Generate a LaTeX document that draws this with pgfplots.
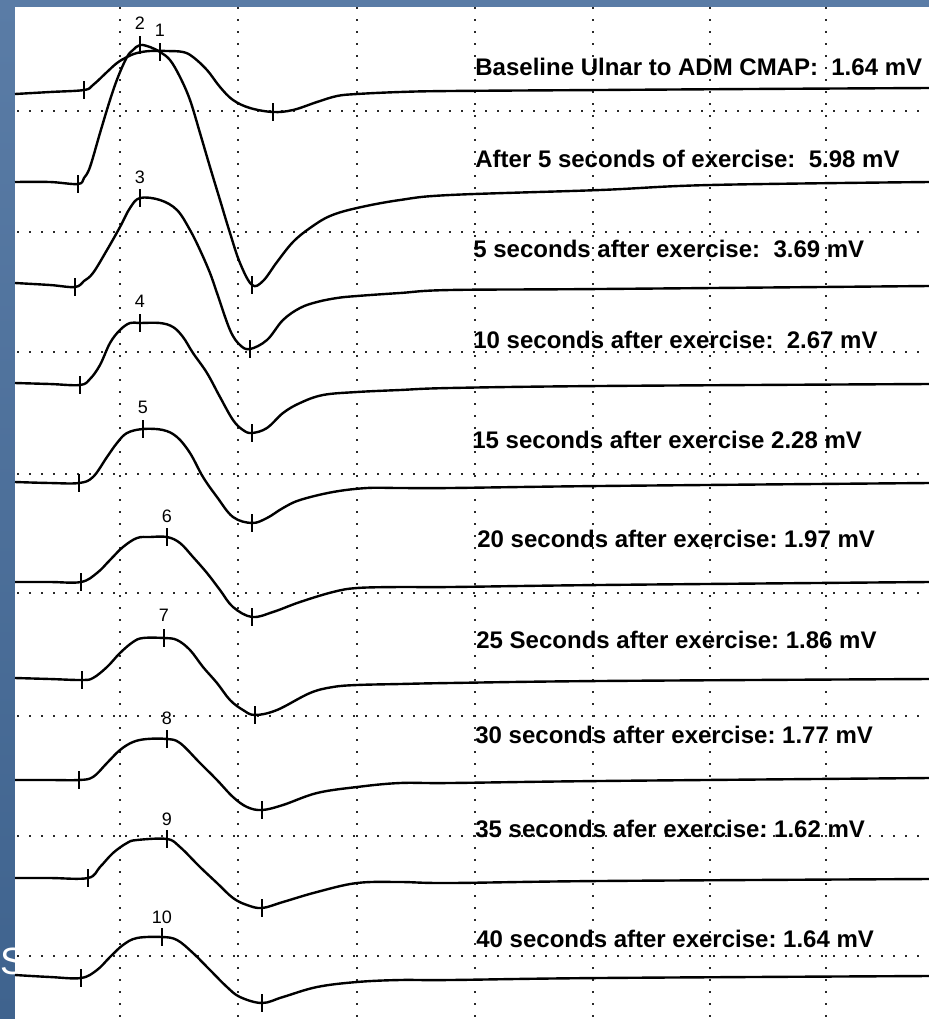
\documentclass[border=0pt]{standalone}
\usepackage{pgfplots}
\pgfplotsset{compat=1.18}
\usepackage{fontspec}
\setmainfont{Liberation Sans}
\definecolor{bgtop}{HTML}{5A7CA6}
\definecolor{bgbot}{HTML}{3F638E}
\definecolor{gridc}{HTML}{2A2A2A}
\begin{document}
\frenchspacing
\begin{tikzpicture}
% slide background and white sheet
\fill[top color=bgtop,bottom color=bgbot] (0,0) rectangle (464.5pt,509.5pt);
\node[anchor=base west,inner sep=0pt,text=white,font=\fontsize{19}{20}\selectfont] at (0pt,22pt) {S};
\fill[white] (7.5pt,0pt) rectangle (464.5pt,506pt);
\begin{axis}[at={(0,0)},anchor=south west,
  width=464.5pt,height=509.5pt,scale only axis,
  xmin=0,xmax=929,ymin=0,ymax=1019,y dir=reverse,
  hide axis,clip=false,
  grd/.style={gridc,line width=1.15pt,dash pattern=on 1.1pt off 4.9pt,forget plot},
  trc/.style={black,line width=1.2pt,smooth,tension=0.6,forget plot},
  tk/.style={black,only marks,mark=|,mark size=4.5pt,mark options={line width=0.9pt},forget plot}]
% dotted grid
\addplot[grd] coordinates {(120,7)(120,1019)};
\addplot[grd] coordinates {(238,7)(238,1019)};
\addplot[grd] coordinates {(357,7)(357,1019)};
\addplot[grd] coordinates {(475,7)(475,1019)};
\addplot[grd] coordinates {(593,7)(593,1019)};
\addplot[grd] coordinates {(710,7)(710,1019)};
\addplot[grd] coordinates {(826,7)(826,1019)};
\addplot[grd] coordinates {(17,111)(929,111)};
\addplot[grd] coordinates {(17,232)(929,232)};
\addplot[grd] coordinates {(17,352)(929,352)};
\addplot[grd] coordinates {(17,474)(929,474)};
\addplot[grd] coordinates {(17,593)(929,593)};
\addplot[grd] coordinates {(17,716)(929,716)};
\addplot[grd] coordinates {(17,836)(929,836)};
\addplot[grd] coordinates {(17,956)(929,956)};
% trace 1: baseline
\addplot[trc] coordinates {(15,94)(50,92)(84,90)(93,85)(107,72)(117,63)(127,57)(137,53)(150,51)(167,51)(183,52)(193,57)(207,70)(220,87)(233,100)(250,108)(273,112)(293,110)(317,102)(337,96)(357,94)(400,92)(450,91)(600,90)(750,89)(929,88)};
% trace 2: after 5 s of exercise
\addplot[trc] coordinates {(15,182)(50,182)(78,184)(84,178)(90,167)(100,133)(110,100)(118,77)(127,57)(133,50)(140,45)(150,47)(160,52)(170,60)(180,77)(190,100)(200,133)(210,167)(220,200)(230,233)(240,263)(252,285)(263,281)(277,262)(293,242)(310,228)(330,216)(357,208)(400,200)(450,195)(600,190)(710,185)(929,182)};
% trace 3
\addplot[trc] coordinates {(15,283)(50,285)(75,287)(84,281)(93,273)(107,250)(120,227)(130,208)(140,198)(160,200)(177,210)(190,230)(200,250)(210,273)(217,293)(230,330)(240,345)(250,349)(267,340)(283,320)(300,308)(317,302)(337,298)(357,296)(400,293)(450,290)(600,289)(929,286)};
% trace 4
\addplot[trc] coordinates {(15,383)(50,384)(80,385)(90,379)(100,365)(110,343)(120,330)(130,323)(140,323)(160,323)(173,327)(183,337)(193,353)(207,373)(220,397)(233,420)(243,430)(252,433)(267,428)(283,413)(300,403)(323,395)(357,392)(400,390)(450,388)(600,386)(929,384)};
% trace 5
\addplot[trc] coordinates {(15,482)(50,483)(79,483)(93,477)(107,457)(117,443)(127,433)(143,429)(163,430)(177,437)(190,453)(203,477)(217,497)(233,517)(252,523)(267,518)(283,508)(300,500)(333,492)(367,488)(400,488)(450,488)(600,486)(929,483)};
% trace 6
\addplot[trc] coordinates {(15,582)(50,582)(81,582)(97,573)(110,560)(123,547)(137,538)(150,537)(167,537)(180,543)(193,557)(207,573)(220,590)(233,607)(252,617)(273,612)(300,602)(333,592)(357,588)(400,587)(450,587)(600,585)(929,582)};
% trace 7
\addplot[trc] coordinates {(15,678)(50,679)(82,680)(93,678)(107,667)(120,653)(133,642)(143,638)(164,638)(177,640)(190,650)(203,667)(217,683)(230,700)(243,710)(255,715)(277,710)(310,693)(333,687)(357,685)(400,684)(450,683)(600,681)(929,679)};
% trace 8
\addplot[trc] coordinates {(15,780)(50,780)(79,780)(93,777)(107,763)(120,750)(133,742)(147,739)(167,739)(180,743)(200,763)(217,780)(233,797)(247,807)(262,810)(283,805)(317,793)(357,787)(400,783)(450,783)(600,781)(929,778)};
% trace 9
\addplot[trc] coordinates {(15,878)(50,878)(88,878)(100,867)(113,853)(127,843)(137,840)(167,839)(180,847)(200,867)(217,883)(233,898)(247,905)(262,908)(283,902)(317,892)(357,883)(400,882)(450,883)(600,881)(929,879)};
% trace 10
\addplot[trc] coordinates {(15,975)(50,977)(81,978)(97,970)(110,957)(123,945)(137,938)(162,937)(177,940)(193,953)(210,970)(227,987)(240,997)(262,1003)(283,997)(317,987)(357,982)(400,980)(450,980)(600,978)(929,976)};
% cursor ticks: onset, peak, trough
\addplot[tk] coordinates {(84,90)(160,52)(273,112)};
\addplot[tk] coordinates {(78,184)(140,45)(252,285)};
\addplot[tk] coordinates {(75,287)(140,198)(250,349)};
\addplot[tk] coordinates {(80,385)(140,323)(252,433)};
\addplot[tk] coordinates {(79,483)(143,429)(252,523)};
\addplot[tk] coordinates {(81,582)(167,537)(252,617)};
\addplot[tk] coordinates {(82,680)(164,638)(255,715)};
\addplot[tk] coordinates {(79,780)(167,739)(262,810)};
\addplot[tk] coordinates {(88,878)(167,839)(262,908)};
\addplot[tk] coordinates {(81,978)(162,937)(262,1003)};
% peak numbers
\begin{scope}[every node/.style={font=\fontsize{9}{10}\selectfont,inner sep=0pt}]
\node at (axis cs:140,23) {2};
\node at (axis cs:160,30) {1};
\node at (axis cs:140,177) {3};
\node at (axis cs:140,301) {4};
\node at (axis cs:143,407) {5};
\node at (axis cs:167,516) {6};
\node at (axis cs:164,615) {7};
\node at (axis cs:167,718) {8};
\node at (axis cs:167,819) {9};
\node at (axis cs:162,917) {10};
\end{scope}
% amplitude annotations
\begin{scope}[every node/.style={anchor=base west,inner sep=0pt,font=\bfseries\fontsize{12}{14}\selectfont}]
\node at (axis cs:475,75) {Baseline Ulnar to ADM CMAP:\ \ 1.64 mV};
\node at (axis cs:475,167) {After 5 seconds of exercise:\ \ 5.98 mV};
\node at (axis cs:473,257) {5 seconds after exercise:\ \ 3.69 mV};
\node at (axis cs:473,348) {10 seconds after exercise:\ \ 2.67 mV};
\node at (axis cs:472,448) {15 seconds after exercise 2.28 mV};
\node at (axis cs:477,547) {20 seconds after exercise: 1.97 mV};
\node at (axis cs:476,648) {25 Seconds after exercise: 1.86 mV};
\node at (axis cs:475,743) {30 seconds after exercise: 1.77 mV};
\node at (axis cs:475,837) {35 seconds afer exercise: 1.62 mV};
\node at (axis cs:476,947) {40 seconds after exercise: 1.64 mV};
\end{scope}
\end{axis}
\pgfresetboundingbox
\path[use as bounding box] (0,0) rectangle (464.5pt,509.5pt);
\end{tikzpicture}
\end{document}
